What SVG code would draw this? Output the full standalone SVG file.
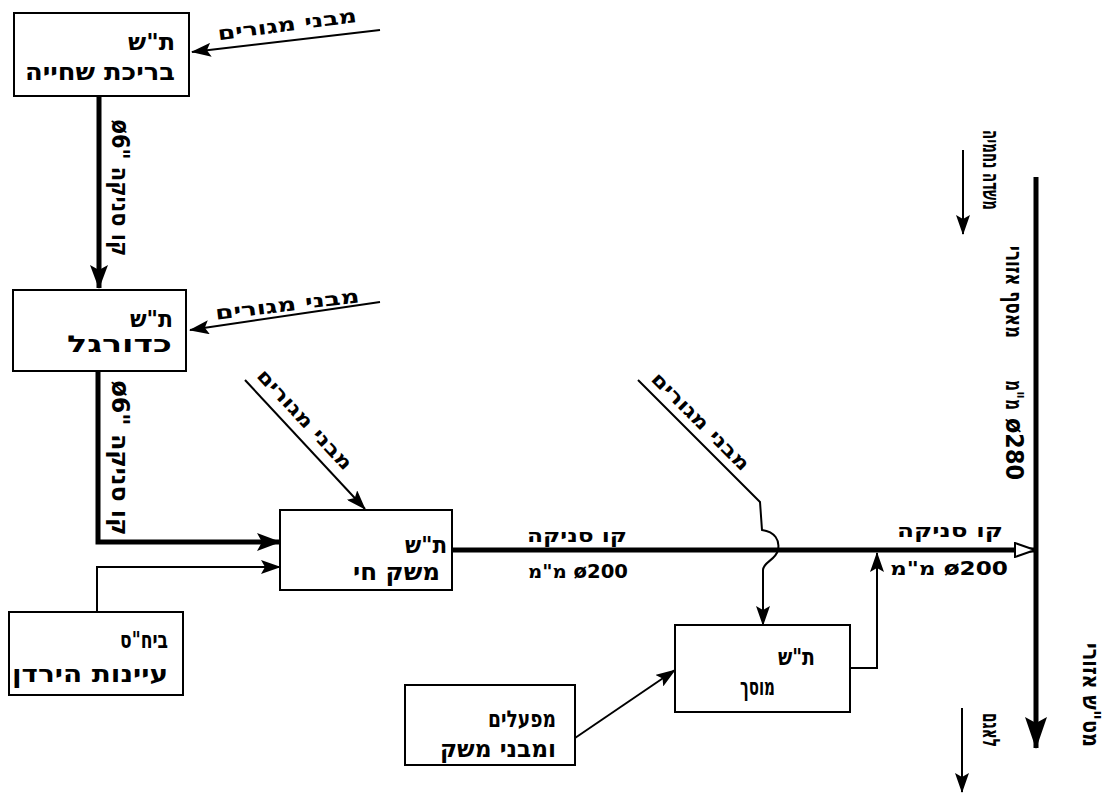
<svg xmlns="http://www.w3.org/2000/svg" width="1109" height="793" viewBox="0 0 1109 793">
<style>
.box{fill:#fff;stroke:#000;stroke-width:2}
.t{font-family:"DejaVu Sans","Liberation Sans",sans-serif;font-size:23px;font-weight:bold;fill:#000}
.l{font-family:"DejaVu Sans","Liberation Sans",sans-serif;font-size:19px;font-weight:bold;fill:#000}
.v{font-family:"DejaVu Sans","Liberation Sans",sans-serif;font-size:24px;font-weight:bold;fill:#000}
.thick{fill:none;stroke:#000;stroke-width:5}
.thin{fill:none;stroke:#000;stroke-width:2}
</style>
<defs>
<marker id="ah" viewBox="0 0 20 14" refX="19" refY="7" markerWidth="20" markerHeight="14" markerUnits="userSpaceOnUse" orient="auto"><path d="M0,0 L20,7 L0,14 L4,7 z" fill="#000"/></marker>
<marker id="ahb" viewBox="0 0 24 18" refX="23" refY="9" markerWidth="24" markerHeight="18" markerUnits="userSpaceOnUse" orient="auto"><path d="M0,0 L24,9 L0,18 L5,9 z" fill="#000"/></marker>
<marker id="ahl" viewBox="0 0 32 22" refX="31" refY="11" markerWidth="32" markerHeight="22" markerUnits="userSpaceOnUse" orient="auto"><path d="M0,0 L32,11 L0,22 L6,11 z" fill="#000"/></marker>
<marker id="ahh" viewBox="0 0 22 16" refX="21" refY="8" markerWidth="22" markerHeight="16" markerUnits="userSpaceOnUse" orient="auto"><path d="M1,1 L21,8 L1,15 z" fill="#fff" stroke="#000" stroke-width="2"/></marker>
</defs>
<g id="connectors">
<path class="thin" d="M380,30 L192,52" marker-end="url(#ah)"/>
<path class="thick" d="M99,96 L99,288" marker-end="url(#ahb)"/>
<path class="thin" d="M380,302 L190,330" marker-end="url(#ah)"/>
<path class="thick" d="M98,370 L98,542 L280,542" marker-end="url(#ahb)"/>
<path class="thin" d="M97,612 L97,567 L280,567" marker-end="url(#ah)"/>
<path class="thin" d="M245,380 L365,509" marker-end="url(#ah)"/>
<path class="thick" d="M453,550 L1035,550" marker-end="url(#ahh)"/>
<path class="thin" d="M638,380 L760,502 L762,530 C775,532 780,540 778,550 C776,560 763,562 763,570 L763,625" marker-end="url(#ah)"/>
<path class="thin" d="M850,668 L877,668 L877,553" marker-end="url(#ah)"/>
<path class="thin" d="M575,738 L675,670" marker-end="url(#ah)"/>
<path class="thick" d="M1036,177 L1036,748" marker-end="url(#ahl)"/>
<path class="thin" d="M963,150 L963,234" marker-end="url(#ah)"/>
<path class="thin" d="M962,708 L962,792" marker-end="url(#ah)"/>
</g>
<g id="labels">
<text class="l" transform="translate(288,31) rotate(-7.5)" text-anchor="middle" textLength="140" lengthAdjust="spacingAndGlyphs">מבני מגורים</text>
<text class="l" transform="translate(288,311) rotate(-7)" text-anchor="middle" textLength="145" lengthAdjust="spacingAndGlyphs">מבני מגורים</text>
<text class="l" transform="translate(300,424) rotate(47)" text-anchor="middle" textLength="130" lengthAdjust="spacingAndGlyphs">מבני מגורים</text>
<text class="l" transform="translate(696,426) rotate(45)" text-anchor="middle" textLength="130" lengthAdjust="spacingAndGlyphs">מבני מגורים</text>
<text class="v" transform="translate(112,188) rotate(90)" text-anchor="middle" textLength="137" lengthAdjust="spacingAndGlyphs">ø6" קו סניקה</text>
<text class="v" transform="translate(112,458) rotate(90)" text-anchor="middle" textLength="155" lengthAdjust="spacingAndGlyphs">ø6" קו סניקה</text>
<text class="l" x="627" y="542" text-anchor="end" textLength="100" lengthAdjust="spacingAndGlyphs">קו סניקה</text>
<text class="l" x="528" y="578" textLength="100" lengthAdjust="spacingAndGlyphs">מ"מ ø200</text>
<text class="l" x="1003" y="537" text-anchor="end" textLength="106" lengthAdjust="spacingAndGlyphs">קו סניקה</text>
<text class="l" x="890" y="575" textLength="118" lengthAdjust="spacingAndGlyphs">מ"מ ø200</text>
<text class="v" transform="translate(983,170) rotate(90)" text-anchor="middle" textLength="80" lengthAdjust="spacingAndGlyphs">משדה נחמיה</text>
<text class="v" transform="translate(1006,292) rotate(90)" text-anchor="middle" textLength="92" lengthAdjust="spacingAndGlyphs">מאסף אזורי</text>
<text class="v" transform="translate(1006,395) rotate(90)" text-anchor="middle" textLength="30" lengthAdjust="spacingAndGlyphs">מ"מ</text>
<text class="v" transform="translate(1006,449) rotate(90)" text-anchor="middle" textLength="62" lengthAdjust="spacingAndGlyphs">ø280</text>
<text class="v" transform="translate(983,730) rotate(90)" text-anchor="middle" textLength="34" lengthAdjust="spacingAndGlyphs">לאגם</text>
<text class="v" transform="translate(1083,695) rotate(90)" text-anchor="middle" textLength="104" lengthAdjust="spacingAndGlyphs">מט"ש אזורי</text>
</g>
<g id="n1"><rect class="box" x="14" y="13" width="175" height="83"/>
<text class="t" x="175" y="50" text-anchor="end" textLength="47" lengthAdjust="spacingAndGlyphs">ת"ש</text>
<text class="t" x="175" y="80" text-anchor="end" textLength="150" lengthAdjust="spacingAndGlyphs">בריכת שחייה</text></g>
<g id="n2"><rect class="box" x="13" y="290" width="173" height="81"/>
<text class="t" x="173" y="327" text-anchor="end" textLength="43" lengthAdjust="spacingAndGlyphs">ת"ש</text>
<text class="t" x="172" y="352" text-anchor="end" textLength="105" lengthAdjust="spacingAndGlyphs">כדורגל</text></g>
<g id="n3"><rect class="box" x="280" y="510" width="172" height="80"/>
<text class="t" x="447" y="553" text-anchor="end" textLength="42" lengthAdjust="spacingAndGlyphs">ת"ש</text>
<text class="t" x="440" y="580" text-anchor="end" textLength="87" lengthAdjust="spacingAndGlyphs">משק חי</text></g>
<g id="n4"><rect class="box" x="9" y="612" width="174" height="83"/>
<text class="t" x="168" y="648" text-anchor="end" textLength="48" lengthAdjust="spacingAndGlyphs">ביח"ס</text>
<text class="t" x="168" y="682" text-anchor="end" textLength="156" lengthAdjust="spacingAndGlyphs">עיינות הירדן</text></g>
<g id="n5"><rect class="box" x="675" y="625" width="175" height="87"/>
<text class="t" x="815" y="665" text-anchor="end" textLength="37" lengthAdjust="spacingAndGlyphs">ת"ש</text>
<text class="t" x="775" y="695" text-anchor="end" textLength="35" lengthAdjust="spacingAndGlyphs">מוסך</text></g>
<g id="n6"><rect class="box" x="405" y="685" width="170" height="80"/>
<text class="t" x="556" y="727" text-anchor="end" textLength="68" lengthAdjust="spacingAndGlyphs">מפעלים</text>
<text class="t" x="556" y="757" text-anchor="end" textLength="116" lengthAdjust="spacingAndGlyphs">ומבני משק</text></g>
</svg>
